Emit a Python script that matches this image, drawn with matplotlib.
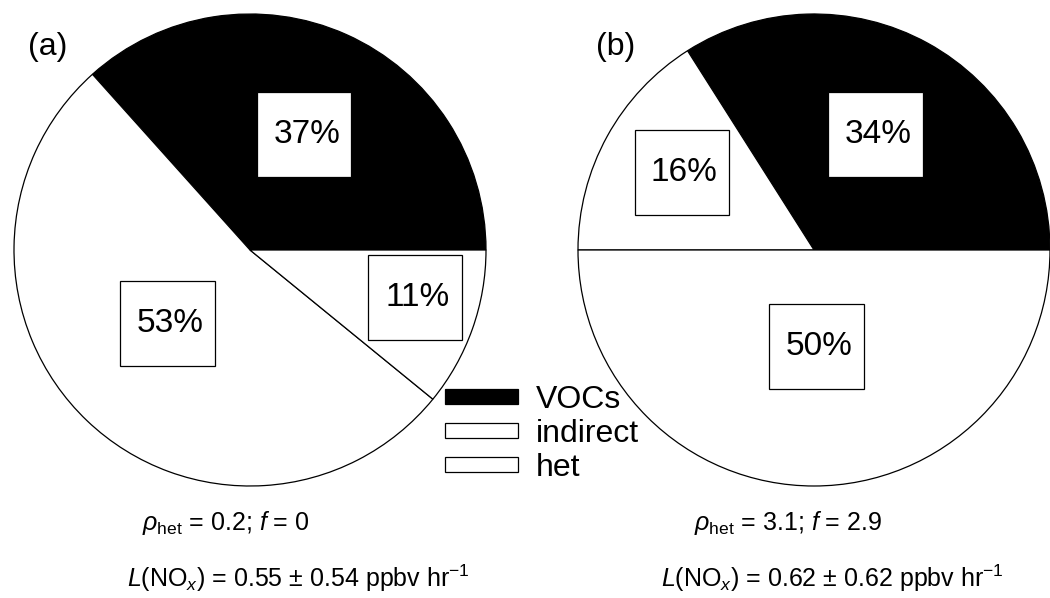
import matplotlib.pyplot as plt
from matplotlib.patches import Patch, Rectangle

plt.rcParams['font.family'] = ['Liberation Sans', 'DejaVu Sans']
plt.rcParams['mathtext.fontset'] = 'custom'
plt.rcParams['mathtext.rm'] = 'Liberation Sans'
plt.rcParams['mathtext.it'] = 'Liberation Sans:italic'

sources = ["VOCs", "indirect", "het"]
colors = ["black", "white", "white"]
share_a = [37, 53, 11]
share_b = [34, 16, 50]
panel_names = ["(a)", "(b)"]
rho_text = [r"$\rho_{\rm het}$ = 0.2; $f$ = 0", r"$\rho_{\rm het}$ = 3.1; $f$ = 2.9"]
loss_text = [r"$L$(NO$_x$) = 0.55 ± 0.54 ppbv hr$^{-1}$",
             r"$L$(NO$_x$) = 0.62 ± 0.62 ppbv hr$^{-1}$"]

W, H = 1050, 598
R = 236
centers = [(250, 250), (814, 250)]
# where the boxed percentages sit, in pie-radius units
label_pos = [[(0.23, 0.49), (-0.35, -0.31), (0.70, -0.20)],
             [(0.26, 0.49), (-0.56, 0.33), (0.01, -0.41)]]

fig = plt.figure(figsize=(10.5, 5.98), dpi=100)

for i, vals in enumerate([share_a, share_b]):
    cx, cy = centers[i]
    ax = fig.add_axes([(cx - R) / W, (H - cy - R) / H, 2 * R / W, 2 * R / H])
    ax.pie(vals, colors=colors, startangle=0, counterclock=True,
           wedgeprops=dict(edgecolor="black", linewidth=0.9))
    ax.set_xlim(-1, 1)
    ax.set_ylim(-1, 1)
    ax.axis("off")
    for v, (x, y) in zip(vals, label_pos[i]):
        ax.add_patch(Rectangle((x - 0.20, y - 0.18), 0.40, 0.36, facecolor="white",
                               edgecolor="black", linewidth=0.9, zorder=3))
        ax.text(x + 0.01, y, f"{v}%", fontsize=24, ha="center", va="center", zorder=4)
    fig.text([48, 616][i] / W, 1 - 47 / H, panel_names[i], fontsize=23,
             ha="center", va="center")
    fig.text([226, 788][i] / W, 1 - 523 / H, rho_text[i], fontsize=18,
             ha="center", va="center")
    fig.text([298, 832][i] / W, 1 - 578 / H, loss_text[i], fontsize=18,
             ha="center", va="center")

handles = [Patch(facecolor=c, edgecolor="black", linewidth=0.9) for c in colors]
fig.legend(handles, sources, loc="center", bbox_to_anchor=(542 / W, 1 - 434 / H),
           frameon=False, fontsize=23, handlelength=2.3, handleheight=0.33,
           handletextpad=0.55, labelspacing=0.12, borderpad=0)

fig.savefig("out.png", dpi=100)
